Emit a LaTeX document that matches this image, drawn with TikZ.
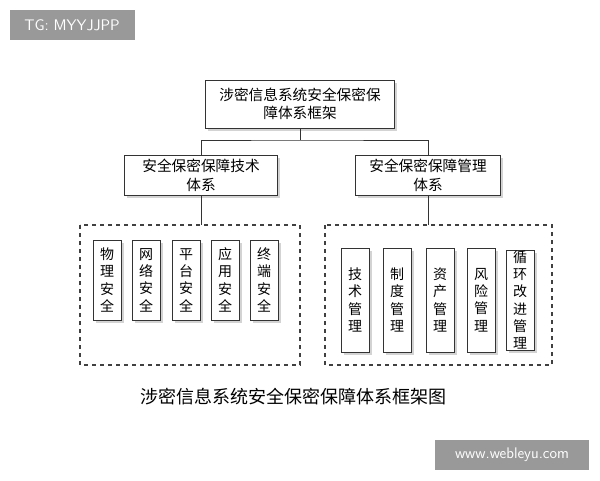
\documentclass[tikz,border=0pt]{standalone}
\usepackage{fontspec}
\setmainfont{Noto Sans CJK SC}
\usetikzlibrary{shadows}
\begin{document}
\begin{tikzpicture}[x=0.75pt,y=-0.75pt,
  bx/.style={draw=black!80,fill=white,line width=0.6pt,drop shadow={shadow xshift=2pt,shadow yshift=-2pt,opacity=0.35},font=\fontsize{11}{14}\selectfont,align=center,inner sep=0pt},
  vb/.style={bx,minimum width=21pt,font=\fontsize{10.5}{13}\selectfont},
  dbox/.style={draw=black!75,dashed,line width=0.9pt},
  ln/.style={draw=black!80,line width=0.6pt},
  wm/.style={fill=black!40,text=white,font=\fontsize{11.5}{13}\selectfont\sffamily,inner sep=0pt}]
\useasboundingbox (0,0) rectangle (600,480);
\node[wm,minimum width=93.75pt,minimum height=22.5pt] (tg) at (72,25) {TG: MYYJJPP};
\node[wm,minimum width=116pt,minimum height=22.5pt] (wb) at (512,455) {www.webleyu.com};
\node[bx,minimum width=142pt,minimum height=36pt] (top) at (300,104) {涉密信息系统安全保密保\\障体系框架};
\node[bx,minimum width=115pt,minimum height=30pt] (L) at (201,175) {安全保密保障技术\\体系};
\node[bx,minimum width=109pt,minimum height=30pt] (R) at (428,175) {安全保密保障管理\\体系};
\draw[dbox] (80,225) rectangle (300,365);
\draw[dbox] (325,225) rectangle (552,365);
\coordinate (jn) at (300,140);
\coordinate (ld) at (201,225);
\coordinate (rd) at (428,225);
\draw[ln] (top.south) -- (jn);
\draw[ln] (L.north) |- (jn) -| (R.north);
\draw[ln] (L.south) -- (ld);
\draw[ln] (R.south) -- (rd);
\foreach \n/\x/\t in {a/107/物\\理\\安\\全, b/146/网\\络\\安\\全, c/186/平\\台\\安\\全, d/225/应\\用\\安\\全, e/264/终\\端\\安\\全}
  \node[vb,minimum height=60pt] (\n) at (\x,280) {\t};
\foreach \n/\x/\t in {f/355/技\\术\\管\\理, g/397/制\\度\\管\\理, h/440/资\\产\\管\\理, i/481/风\\险\\管\\理}
  \node[vb,minimum height=78pt] (\n) at (\x,300) {\t};
\node[vb,minimum height=75pt] (j) at (520,300) {循\\环\\改\\进\\管\\理};
\node[font=\fontsize{13.5}{15}\selectfont] (cap) at (293,397) {涉密信息系统安全保密保障体系框架图};
\end{tikzpicture}
\end{document}
